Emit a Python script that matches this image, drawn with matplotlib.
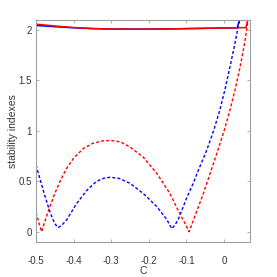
import matplotlib
matplotlib.use("Agg")
import matplotlib.pyplot as plt

plt.rcParams['font.family'] = ['Liberation Sans', 'DejaVu Sans']

# dashed curves
c_red = [-0.5, -0.49, -0.485, -0.475, -0.463, -0.45, -0.436, -0.42, -0.40, -0.374,
         -0.35, -0.325, -0.30, -0.275, -0.25, -0.215, -0.179, -0.144, -0.122, -0.105,
         -0.093, -0.075, -0.055, -0.037, -0.019, 0.0, 0.016, 0.03, 0.043, 0.055, 0.064]
y_red = [0.19, 0.06, 0.0, 0.12, 0.25, 0.38, 0.50, 0.62, 0.73, 0.825,
         0.875, 0.90, 0.905, 0.89, 0.84, 0.74, 0.58, 0.38, 0.21, 0.09,
         0.0, 0.18, 0.38, 0.58, 0.78, 1.0, 1.21, 1.42, 1.64, 1.88, 2.1]

c_blue = [-0.5, -0.49, -0.476, -0.465, -0.458, -0.45, -0.441, -0.43, -0.418, -0.405,
          -0.392, -0.365, -0.339, -0.32, -0.303, -0.28, -0.25, -0.215, -0.179, -0.152,
          -0.145, -0.139, -0.13, -0.122, -0.1, -0.082, -0.065, -0.046, -0.028, -0.011,
          0.003, 0.016, 0.029, 0.041]
y_blue = [0.66, 0.53, 0.35, 0.22, 0.15, 0.08, 0.04, 0.07, 0.12, 0.2,
          0.28, 0.41, 0.50, 0.53, 0.54, 0.53, 0.48, 0.38, 0.25, 0.12,
          0.07, 0.03, 0.07, 0.12, 0.33, 0.48, 0.64, 0.81, 1.0, 1.21,
          1.42, 1.64, 1.87, 2.1]

# solid curves near 2
c_sb = [-0.5, -0.45, -0.4, -0.35, -0.3, -0.25, -0.2, -0.15, -0.1, -0.05, 0.0, 0.035, 0.041]
y_sb = [2.045, 2.033, 2.022, 2.014, 2.01, 2.009, 2.009, 2.011, 2.014, 2.017, 2.02, 2.022, 2.1]
c_sr = [-0.5, -0.45, -0.4, -0.35, -0.3, -0.25, -0.2, -0.15, -0.1, -0.05, 0.0, 0.058, 0.063]
y_sr = [2.058, 2.04, 2.025, 2.015, 2.01, 2.009, 2.009, 2.011, 2.014, 2.017, 2.02, 2.024, 2.1]

xticks = [-0.5, -0.4, -0.3, -0.2, -0.1, 0]
xticklabels = ['-0.5', '-0.4', '-0.3', '-0.2', '-0.1', '0']
yticks = [0, 0.5, 1, 1.5, 2]
yticklabels = ['0', '0.5', '1', '1.5', '2']

fig = plt.figure(figsize=(2.77, 2.77), dpi=100)
ax = fig.add_axes([0.130, 0.127, 0.774, 0.801])

ax.plot(c_blue, y_blue, color='b', lw=1.0, dashes=(2.2, 1.5))
ax.plot(c_red, y_red, color='r', lw=1.0, dashes=(2.2, 1.5))
ax.plot(c_sb, y_sb, color='b', lw=1.1)
ax.plot(c_sr, y_sr, color='r', lw=1.1)

ax.set_xlim(-0.5, 0.07)
ax.set_ylim(-0.1, 2.1)
ax.set_xticks(xticks)
ax.set_xticklabels(xticklabels)
ax.set_yticks(yticks)
ax.set_yticklabels(yticklabels)

for s in ax.spines.values():
    s.set_color('#a0a0a0')
    s.set_linewidth(0.8)
ax.tick_params(direction='in', top=True, right=True, length=2.5, width=0.6,
               color='#a0a0a0', labelsize=7, labelcolor='#333333')
ax.tick_params(axis='x', pad=10.5)
ax.tick_params(axis='y', pad=3)

ax.set_xlabel('C', fontsize=7.5, color='#333333', va='center')
ax.set_ylabel('stability indexes', fontsize=7.5, color='#333333', va='center')
ax.xaxis.set_label_coords(0.5, -0.132)
ax.yaxis.set_label_coords(-0.105, 0.5)

fig.savefig('out.png', dpi=100)
